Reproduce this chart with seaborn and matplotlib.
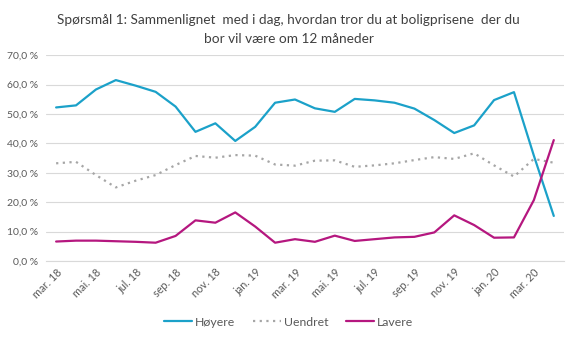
import matplotlib
matplotlib.use("Agg")
import matplotlib.pyplot as plt
import matplotlib.ticker as mticker
import seaborn as sns
import pandas as pd

months = ["mar. 18", "apr. 18", "mai. 18", "jun. 18", "jul. 18", "aug. 18",
          "sep. 18", "okt. 18", "nov. 18", "des. 18", "jan. 19", "feb. 19",
          "mar. 19", "apr. 19", "mai. 19", "jun. 19", "jul. 19", "aug. 19",
          "sep. 19", "okt. 19", "nov. 19", "des. 19", "jan. 20", "feb. 20",
          "mar. 20", "apr. 20"]

hoyere = [52.2, 52.9, 58.3, 61.5, 59.6, 57.5, 52.5, 43.9, 46.8, 40.8, 45.6, 53.8, 54.9,
          51.9, 50.7, 55.1, 54.6, 53.8, 51.8, 47.9, 43.5, 46.1, 54.7, 57.4, 35.8, 15.3]
uendret = [33.2, 33.7, 29.2, 25.0, 27.3, 29.2, 32.6, 35.7, 35.1, 36.0, 35.8, 32.8, 32.4,
           34.1, 34.2, 32.0, 32.5, 33.2, 34.3, 35.3, 34.7, 36.6, 32.5, 28.7, 34.7, 33.4]
lavere = [6.6, 6.9, 6.9, 6.7, 6.5, 6.2, 8.5, 13.8, 13.0, 16.5, 11.7, 6.2, 7.4,
          6.5, 8.6, 6.8, 7.4, 8.0, 8.2, 9.7, 15.5, 12.2, 7.9, 8.0, 20.7, 41.1]

series_names = ["Høyere", "Uendret", "Lavere"]
title = "Spørsmål 1: Sammenlignet  med i dag, hvordan tror du at boligprisene  der du\nbor vil være om 12 måneder"

sns.set_theme(style="white")
plt.rcParams["font.family"] = ["Lato", "DejaVu Sans"]

rows = []
for name, vals in zip(series_names, [hoyere, uendret, lavere]):
    for i, v in enumerate(vals):
        rows.append({"pos": i, "måned": months[i], "andel": v, "svar": name})
df = pd.DataFrame(rows)

palette = {"Høyere": "#1ba1c9", "Uendret": "#a6a6a6", "Lavere": "#b5177f"}
dashes = {"Høyere": "", "Uendret": (1, 2), "Lavere": ""}

fig = plt.figure(figsize=(5.77, 3.38), dpi=100)
ax = fig.add_axes([0.080, 0.228, 0.897, 0.609])

sns.lineplot(data=df, x="pos", y="andel", hue="svar", style="svar",
             palette=palette, dashes=dashes, linewidth=1.6, ax=ax, legend=True)

ax.set_xlim(-0.5, len(months) - 0.5)
ax.set_ylim(0, 70)
ax.yaxis.set_major_locator(mticker.MultipleLocator(10))
ax.yaxis.set_major_formatter(mticker.FuncFormatter(lambda v, p: f"{v:.1f} %".replace(".", ",")))
ax.grid(axis="y", color="#d9d9d9", linewidth=0.8)
ax.set_axisbelow(True)

label_pos = list(range(0, len(months), 2))
ax.set_xticks(label_pos)
ax.set_xticklabels([months[i] for i in label_pos], rotation=45, ha="right",
                   rotation_mode="anchor")
ax.xaxis.set_minor_locator(mticker.FixedLocator([i - 0.5 for i in range(0, len(months) + 1, 2)]))
ax.tick_params(axis="x", which="major", length=0, pad=4, labelsize=7.8, labelcolor="#595959")
ax.tick_params(axis="x", which="minor", length=4, color="#d9d9d9", width=0.8, direction="out")
ax.tick_params(axis="y", length=0, labelsize=7.5, labelcolor="#595959", pad=6)

for side in ["left", "right", "top"]:
    ax.spines[side].set_visible(False)
ax.spines["bottom"].set_color("#d9d9d9")
ax.spines["bottom"].set_linewidth(0.8)
ax.set_xlabel("")
ax.set_ylabel("")

handles, labels = ax.get_legend_handles_labels()
ax.legend(handles, labels, loc="center", bbox_to_anchor=(0.5, 0.047),
          bbox_transform=fig.transFigure, ncol=3, frameon=False, fontsize=8.8,
          handlelength=2.3, handletextpad=0.2, columnspacing=1.5, labelcolor="#595959")

fig.text(0.5, 0.912, title, ha="center", va="center", fontsize=9.8,
         color="#404040", linespacing=1.65)

fig.savefig("out.png", dpi=100)
